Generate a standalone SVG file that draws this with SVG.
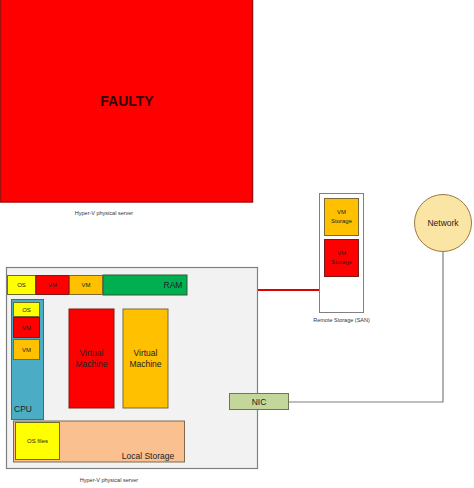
<svg xmlns="http://www.w3.org/2000/svg" width="474" height="488" viewBox="0 0 474 488">
<style>
text{font-family:"Liberation Sans",Arial,sans-serif;text-anchor:middle;fill:#222}
.s{font-size:6px}
.m{font-size:8.5px}
.cap{font-size:5.5px;fill:#333}
.y{fill:#ffff00;stroke:#6b6b2a;stroke-width:1}
.r{fill:#ff0000;stroke:#7a1a1a;stroke-width:1}
.o{fill:#ffc000;stroke:#7a6a3a;stroke-width:1}
.ln{fill:none;stroke:#7f7f7f;stroke-width:1.2}
</style>
<rect width="474" height="488" fill="#fff"/>
<g id="faulty-server">
<rect x="0.5" y="-1" width="252" height="203" fill="#ff0000" stroke="#a01010" stroke-width="1.5"/>
<text x="127" y="106" style="font-size:14px;font-weight:bold;fill:#3a0000">FAULTY</text>
<text class="cap" x="104" y="215">Hyper-V physical server</text>
</g>
<g id="connectors">
<line x1="258" y1="290" x2="319" y2="290" stroke="#e00000" stroke-width="2.2"/>
<path class="ln" d="M112 309 V298 H218 V396 H230"/>
<path class="ln" d="M143 408 V416 H192 V406 H230"/>
<path class="ln" d="M289 402 H443 V251"/>
</g>
<g id="server">
<rect x="6.5" y="267.5" width="251" height="201" fill="#f2f2f2" stroke="#808080" stroke-width="1.2"/>
<text class="cap" x="109" y="482">Hyper-V physical server</text>
</g>
<g id="ram">
<rect x="103" y="275" width="84" height="20" fill="#00b050" stroke="#2f5a2f" stroke-width="1"/>
<text class="m" x="173" y="288">RAM</text>
<rect class="y" x="7.5" y="275.5" width="28" height="19"/>
<text class="s" x="21.5" y="287">OS</text>
<rect class="r" x="36" y="275.5" width="33" height="19"/>
<text class="s" x="52.5" y="287">VM</text>
<rect class="o" x="69.5" y="275.5" width="33" height="19"/>
<text class="s" x="86" y="287">VM</text>
</g>
<g id="cpu">
<rect x="11.5" y="299.5" width="32" height="120" fill="#4bacc6" stroke="#31708a" stroke-width="1"/>
<text class="m" x="23" y="412">CPU</text>
<rect class="y" x="13.5" y="302.5" width="26" height="14"/>
<text class="s" x="26.5" y="311.5">OS</text>
<rect class="r" x="13.5" y="317.5" width="26" height="20"/>
<text class="s" x="26.5" y="329.5">VM</text>
<rect class="o" x="13.5" y="339.5" width="26" height="20"/>
<text class="s" x="26.5" y="351.5">VM</text>
</g>
<g id="vm-red">
<rect x="69" y="309" width="45" height="99" fill="#ff0000" stroke="#7a1a1a" stroke-width="1"/>
<text class="m" x="91.5" y="356">Virtual</text>
<text class="m" x="91.5" y="367">Machine</text>
</g>
<g id="vm-orange">
<rect x="123" y="309" width="45" height="99" fill="#ffc000" stroke="#7a6a3a" stroke-width="1"/>
<text class="m" x="145.5" y="356">Virtual</text>
<text class="m" x="145.5" y="367">Machine</text>
</g>
<g id="local-storage">
<rect x="13.5" y="421" width="171" height="41" fill="#fac090" stroke="#7f6a50" stroke-width="1"/>
<text class="m" x="148" y="459">Local Storage</text>
<rect class="y" x="15.5" y="422.5" width="44" height="37"/>
<text class="s" x="37.5" y="443">OS files</text>
</g>
<g id="nic">
<rect x="229.5" y="393.5" width="59" height="16" fill="#c4d79b" stroke="#6a7a50" stroke-width="1"/>
<text class="m" x="259" y="404.5">NIC</text>
</g>
<g id="san">
<rect x="319.5" y="193.5" width="44" height="119" fill="#fff" stroke="#808080" stroke-width="1"/>
<rect class="o" x="324.5" y="198.5" width="34" height="37"/>
<text class="s" x="341.5" y="214">VM</text>
<text class="s" x="341.5" y="223">Storage</text>
<rect class="r" x="324.5" y="239.5" width="34" height="37"/>
<text class="s" x="341.5" y="255">VM</text>
<text class="s" x="341.5" y="264">Storage</text>
<text class="cap" x="341.5" y="322">Remote Storage (SAN)</text>
</g>
<g id="network">
<circle cx="443" cy="223" r="28.5" fill="#fbe5a5" stroke="#9a7a40" stroke-width="1"/>
<text class="m" x="443" y="226">Network</text>
</g>
</svg>
